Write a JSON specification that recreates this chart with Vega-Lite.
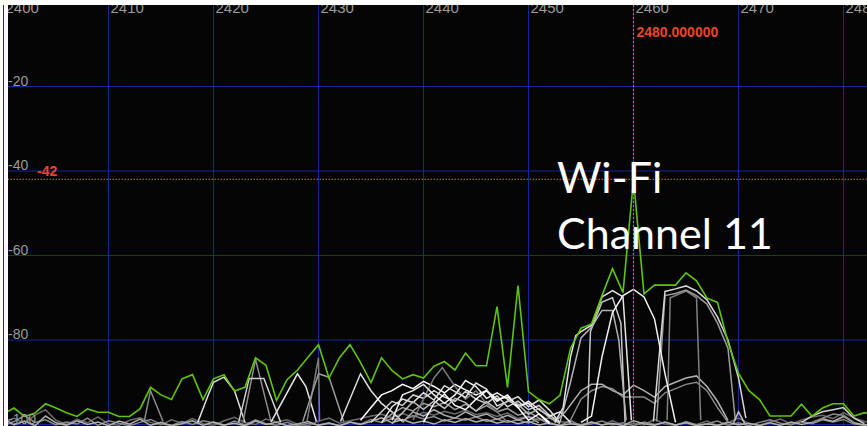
{
"$schema":"https://vega.github.io/schema/vega-lite/v6.json",
"width":859,"height":421,
"autosize":{"type":"none"},
"padding":{"left":8,"top":5,"right":0,"bottom":0},
"background":"#ffffff",
"config":{"view":{"fill":"#050505","stroke":null},"font":"Liberation Sans"},
"datasets":{
"green":[
{"f":2400,"v":-97.5},{"f":2401,"v":-96.1},{"f":2402,"v":-98.1},{"f":2403,"v":-97.3},{"f":2404,"v":-95.1},{"f":2405,"v":-96.1},{"f":2406,"v":-97.2},{"f":2407,"v":-98.1},{"f":2408,"v":-96.3},{"f":2409,"v":-97.1},
{"f":2410,"v":-97.1},{"f":2411,"v":-98.1},{"f":2412,"v":-98.1},{"f":2413,"v":-96.3},{"f":2414,"v":-91.2},{"f":2415,"v":-93.0},{"f":2416,"v":-94.1},{"f":2417,"v":-89.2},{"f":2418,"v":-88.2},{"f":2419,"v":-94.1},
{"f":2420,"v":-89.2},{"f":2421,"v":-88.2},{"f":2422,"v":-92.1},{"f":2423,"v":-91.2},{"f":2424,"v":-84.2},{"f":2425,"v":-86.0},{"f":2426,"v":-94.3},{"f":2427,"v":-89.4},{"f":2428,"v":-87.1},{"f":2429,"v":-84.1},
{"f":2430,"v":-81.1},{"f":2431,"v":-89.0},{"f":2432,"v":-84.2},{"f":2433,"v":-81.1},{"f":2434,"v":-85.3},{"f":2435,"v":-90.1},{"f":2436,"v":-84.2},{"f":2437,"v":-87.2},{"f":2438,"v":-89.2},{"f":2439,"v":-88.2},
{"f":2440,"v":-89.0},{"f":2441,"v":-86.2},{"f":2442,"v":-85.1},{"f":2443,"v":-87.1},{"f":2444,"v":-83.1},{"f":2445,"v":-86.1},{"f":2446,"v":-86.1},{"f":2447,"v":-72.1},{"f":2448,"v":-91.2},{"f":2449,"v":-67.1},
{"f":2450,"v":-92.2},{"f":2451,"v":-94.1},{"f":2452,"v":-95.1},{"f":2453,"v":-93.1},{"f":2454,"v":-82.0},{"f":2455,"v":-77.2},{"f":2456,"v":-76.2},{"f":2457,"v":-69.5},{"f":2458,"v":-63.1},{"f":2459,"v":-68.8},
{"f":2460,"v":-42},{"f":2461,"v":-69.1},{"f":2462,"v":-67.0},{"f":2463,"v":-67.0},{"f":2464,"v":-67.0},{"f":2465,"v":-64.1},{"f":2466,"v":-66.0},{"f":2467,"v":-70.1},{"f":2468,"v":-71.1},{"f":2469,"v":-80.6},
{"f":2470,"v":-87.9},{"f":2471,"v":-92.0},{"f":2472,"v":-94.1},{"f":2473,"v":-98.0},{"f":2474,"v":-98.0},{"f":2475,"v":-98.0},{"f":2476,"v":-95.2},{"f":2477,"v":-98.0},{"f":2478,"v":-96.1},{"f":2479,"v":-95.1},
{"f":2480,"v":-95.1},{"f":2481,"v":-98.0},{"f":2482,"v":-97.2},{"f":2483,"v":-97.8}
],
"traces":[
{"t":"n1","f":2400,"v":-99.5},{"t":"n1","f":2401,"v":-98.5},{"t":"n1","f":2402,"v":-99.8},{"t":"n1","f":2403,"v":-97.8},{"t":"n1","f":2404,"v":-96.5},{"t":"n1","f":2405,"v":-99},{"t":"n1","f":2406,"v":-100},{"t":"n1","f":2407,"v":-98.8},{"t":"n1","f":2408,"v":-99.6},{"t":"n1","f":2409,"v":-98.2},
{"t":"n1","f":2410,"v":-99.9},{"t":"n1","f":2411,"v":-100.2},{"t":"n1","f":2412,"v":-99},{"t":"n1","f":2413,"v":-98.4},{"t":"n1","f":2414,"v":-99.5},{"t":"n1","f":2415,"v":-100.1},{"t":"n1","f":2416,"v":-98.9},{"t":"n1","f":2417,"v":-99.7},{"t":"n1","f":2418,"v":-98.6},{"t":"n1","f":2419,"v":-99.8},
{"t":"n1","f":2420,"v":-100.2},{"t":"n1","f":2421,"v":-99.1},{"t":"n1","f":2422,"v":-98.3},{"t":"n1","f":2423,"v":-99.6},{"t":"n1","f":2424,"v":-100},{"t":"n1","f":2425,"v":-98.7},{"t":"n1","f":2426,"v":-99.4},{"t":"n1","f":2427,"v":-98.9},{"t":"n1","f":2428,"v":-99.9},{"t":"n1","f":2429,"v":-100.3},
{"t":"n1","f":2430,"v":-99.2},{"t":"n1","f":2431,"v":-98.5},{"t":"n1","f":2432,"v":-99.7},{"t":"n1","f":2433,"v":-99.1},{"t":"n1","f":2434,"v":-98.6},{"t":"n1","f":2435,"v":-98},{"t":"n1","f":2436,"v":-97.6},{"t":"n1","f":2437,"v":-98.4},{"t":"n1","f":2438,"v":-97.4},{"t":"n1","f":2439,"v":-98.2},
{"t":"n1","f":2440,"v":-97.1},{"t":"n1","f":2441,"v":-97.8},{"t":"n1","f":2442,"v":-96.9},{"t":"n1","f":2443,"v":-97.5},{"t":"n1","f":2444,"v":-96.6},{"t":"n1","f":2445,"v":-97.7},{"t":"n1","f":2446,"v":-97.2},{"t":"n1","f":2447,"v":-98.1},{"t":"n1","f":2448,"v":-97.3},{"t":"n1","f":2449,"v":-98.6},
{"t":"n1","f":2450,"v":-98},{"t":"n1","f":2451,"v":-99},{"t":"n1","f":2452,"v":-98.4},{"t":"n1","f":2453,"v":-99.3},{"t":"n1","f":2454,"v":-99.6},{"t":"n1","f":2455,"v":-100},{"t":"n1","f":2456,"v":-99.4},{"t":"n1","f":2457,"v":-100.2},{"t":"n1","f":2458,"v":-99.1},{"t":"n1","f":2459,"v":-100.3},
{"t":"n1","f":2460,"v":-99.7},{"t":"n1","f":2461,"v":-100.1},{"t":"n1","f":2462,"v":-98.8},{"t":"n1","f":2463,"v":-99.9},{"t":"n1","f":2464,"v":-100.2},{"t":"n1","f":2465,"v":-99.5},{"t":"n1","f":2466,"v":-100},{"t":"n1","f":2467,"v":-99.2},{"t":"n1","f":2468,"v":-100.3},{"t":"n1","f":2469,"v":-99.6},
{"t":"n1","f":2470,"v":-98.5},{"t":"n1","f":2471,"v":-99.8},{"t":"n1","f":2472,"v":-100.1},{"t":"n1","f":2473,"v":-99.4},{"t":"n1","f":2474,"v":-98.7},{"t":"n1","f":2475,"v":-99.9},{"t":"n1","f":2476,"v":-98.9},{"t":"n1","f":2477,"v":-98.2},{"t":"n1","f":2478,"v":-97.8},{"t":"n1","f":2479,"v":-98.6},
{"t":"n1","f":2480,"v":-97.2},{"t":"n1","f":2481,"v":-98.4},{"t":"n1","f":2482,"v":-99.3},{"t":"n1","f":2483,"v":-99.8},
{"t":"n2","f":2400,"v":-100.2},{"t":"n2","f":2401,"v":-99.3},{"t":"n2","f":2402,"v":-97.9},{"t":"n2","f":2403,"v":-99.5},{"t":"n2","f":2404,"v":-98.9},{"t":"n2","f":2405,"v":-100.1},{"t":"n2","f":2406,"v":-99.4},{"t":"n2","f":2407,"v":-99.9},{"t":"n2","f":2408,"v":-98.5},{"t":"n2","f":2409,"v":-100.2},
{"t":"n2","f":2410,"v":-99.1},{"t":"n2","f":2411,"v":-99.7},{"t":"n2","f":2412,"v":-100.3},{"t":"n2","f":2413,"v":-99.5},{"t":"n2","f":2414,"v":-98.8},{"t":"n2","f":2415,"v":-99.9},{"t":"n2","f":2416,"v":-100.2},{"t":"n2","f":2417,"v":-99.3},{"t":"n2","f":2418,"v":-100},{"t":"n2","f":2419,"v":-99.1},
{"t":"n2","f":2420,"v":-99.6},{"t":"n2","f":2421,"v":-100.3},{"t":"n2","f":2422,"v":-99.2},{"t":"n2","f":2423,"v":-100.1},{"t":"n2","f":2424,"v":-98.9},{"t":"n2","f":2425,"v":-99.8},{"t":"n2","f":2426,"v":-100.2},{"t":"n2","f":2427,"v":-99.5},{"t":"n2","f":2428,"v":-100.3},{"t":"n2","f":2429,"v":-99.7},
{"t":"n2","f":2430,"v":-100.1},{"t":"n2","f":2431,"v":-99.6},{"t":"n2","f":2432,"v":-100.3},{"t":"n2","f":2433,"v":-99.4},{"t":"n2","f":2434,"v":-99.9},{"t":"n2","f":2435,"v":-98.8},{"t":"n2","f":2436,"v":-99.5},{"t":"n2","f":2437,"v":-98.6},{"t":"n2","f":2438,"v":-99.1},{"t":"n2","f":2439,"v":-97.9},
{"t":"n2","f":2440,"v":-98.7},{"t":"n2","f":2441,"v":-98.1},{"t":"n2","f":2442,"v":-99.2},{"t":"n2","f":2443,"v":-98.4},{"t":"n2","f":2444,"v":-99},{"t":"n2","f":2445,"v":-98.2},{"t":"n2","f":2446,"v":-99.3},{"t":"n2","f":2447,"v":-98.7},{"t":"n2","f":2448,"v":-99.5},{"t":"n2","f":2449,"v":-98.9},
{"t":"n2","f":2450,"v":-99.7},{"t":"n2","f":2451,"v":-98.6},{"t":"n2","f":2452,"v":-99.9},{"t":"n2","f":2453,"v":-100.2},{"t":"n2","f":2454,"v":-99.1},{"t":"n2","f":2455,"v":-100.3},{"t":"n2","f":2456,"v":-99.8},{"t":"n2","f":2457,"v":-99.2},{"t":"n2","f":2458,"v":-100.1},{"t":"n2","f":2459,"v":-99.6},
{"t":"n2","f":2460,"v":-100.3},{"t":"n2","f":2461,"v":-99.4},{"t":"n2","f":2462,"v":-100},{"t":"n2","f":2463,"v":-99.5},{"t":"n2","f":2464,"v":-100.2},{"t":"n2","f":2465,"v":-99.3},{"t":"n2","f":2466,"v":-100.1},{"t":"n2","f":2467,"v":-99.8},{"t":"n2","f":2468,"v":-99.2},{"t":"n2","f":2469,"v":-100.2},
{"t":"n2","f":2470,"v":-99.6},{"t":"n2","f":2471,"v":-100.3},{"t":"n2","f":2472,"v":-99.5},{"t":"n2","f":2473,"v":-98.9},{"t":"n2","f":2474,"v":-99.7},{"t":"n2","f":2475,"v":-100.1},{"t":"n2","f":2476,"v":-99.3},{"t":"n2","f":2477,"v":-99.8},{"t":"n2","f":2478,"v":-98.9},{"t":"n2","f":2479,"v":-99.4},
{"t":"n2","f":2480,"v":-98.8},{"t":"n2","f":2481,"v":-99.9},{"t":"n2","f":2482,"v":-100.2},{"t":"n2","f":2483,"v":-99.5},
{"t":"n3","f":2400,"v":-98.6},{"t":"n3","f":2401,"v":-100.1},{"t":"n3","f":2402,"v":-99.2},{"t":"n3","f":2403,"v":-100.3},{"t":"n3","f":2404,"v":-98},{"t":"n3","f":2405,"v":-99.6},{"t":"n3","f":2406,"v":-100.2},{"t":"n3","f":2407,"v":-99.1},{"t":"n3","f":2408,"v":-100},{"t":"n3","f":2409,"v":-99.4},
{"t":"n3","f":2410,"v":-100.3},{"t":"n3","f":2411,"v":-99.2},{"t":"n3","f":2412,"v":-99.9},{"t":"n3","f":2413,"v":-98.7},{"t":"n3","f":2414,"v":-100.2},{"t":"n3","f":2415,"v":-99.5},{"t":"n3","f":2416,"v":-100.3},{"t":"n3","f":2417,"v":-99.8},{"t":"n3","f":2418,"v":-99.1},{"t":"n3","f":2419,"v":-100.2},
{"t":"n3","f":2420,"v":-99.4},{"t":"n3","f":2421,"v":-100.1},{"t":"n3","f":2422,"v":-99.7},{"t":"n3","f":2423,"v":-100.3},{"t":"n3","f":2424,"v":-99.2},{"t":"n3","f":2425,"v":-100},{"t":"n3","f":2426,"v":-99.5},{"t":"n3","f":2427,"v":-100.3},{"t":"n3","f":2428,"v":-99.9},{"t":"n3","f":2429,"v":-99.3},
{"t":"n3","f":2430,"v":-100.2},{"t":"n3","f":2431,"v":-99.7},{"t":"n3","f":2432,"v":-100.3},{"t":"n3","f":2433,"v":-99.5},{"t":"n3","f":2434,"v":-100},{"t":"n3","f":2435,"v":-99.3},{"t":"n3","f":2436,"v":-98.4},{"t":"n3","f":2437,"v":-99.6},{"t":"n3","f":2438,"v":-98.8},{"t":"n3","f":2439,"v":-99.7},
{"t":"n3","f":2440,"v":-99.2},{"t":"n3","f":2441,"v":-99.9},{"t":"n3","f":2442,"v":-98.9},{"t":"n3","f":2443,"v":-99.5},{"t":"n3","f":2444,"v":-98.6},{"t":"n3","f":2445,"v":-99.4},{"t":"n3","f":2446,"v":-98.8},{"t":"n3","f":2447,"v":-99.7},{"t":"n3","f":2448,"v":-99.1},{"t":"n3","f":2449,"v":-99.8},
{"t":"n3","f":2450,"v":-99.3},{"t":"n3","f":2451,"v":-100.1},{"t":"n3","f":2452,"v":-99.6},{"t":"n3","f":2453,"v":-100.3},{"t":"n3","f":2454,"v":-99.8},{"t":"n3","f":2455,"v":-100.2},{"t":"n3","f":2456,"v":-99.4},{"t":"n3","f":2457,"v":-100.1},{"t":"n3","f":2458,"v":-99.7},{"t":"n3","f":2459,"v":-100.3},
{"t":"n3","f":2460,"v":-99.1},{"t":"n3","f":2461,"v":-99.8},{"t":"n3","f":2462,"v":-100.2},{"t":"n3","f":2463,"v":-99.4},{"t":"n3","f":2464,"v":-100.1},{"t":"n3","f":2465,"v":-99.6},{"t":"n3","f":2466,"v":-100.3},{"t":"n3","f":2467,"v":-99.9},{"t":"n3","f":2468,"v":-100.2},{"t":"n3","f":2469,"v":-99.5},
{"t":"n3","f":2470,"v":-100.1},{"t":"n3","f":2471,"v":-99.7},{"t":"n3","f":2472,"v":-100.3},{"t":"n3","f":2473,"v":-99.6},{"t":"n3","f":2474,"v":-100.2},{"t":"n3","f":2475,"v":-99.4},{"t":"n3","f":2476,"v":-100},{"t":"n3","f":2477,"v":-99.5},{"t":"n3","f":2478,"v":-98.6},{"t":"n3","f":2479,"v":-99.3},
{"t":"n3","f":2480,"v":-98.1},{"t":"n3","f":2481,"v":-99.6},{"t":"n3","f":2482,"v":-100.1},{"t":"n3","f":2483,"v":-99.7},
{"t":"p1","f":2413.4,"v":-99.3},{"t":"p1","f":2414,"v":-92},{"t":"p1","f":2415.2,"v":-99.3},
{"t":"p3","f":2418.5,"v":-99.5},{"t":"p3","f":2419.5,"v":-93},{"t":"p3","f":2420,"v":-90},{"t":"p3","f":2421,"v":-88.8},{"t":"p3","f":2422,"v":-92},{"t":"p3","f":2423,"v":-99.5},
{"t":"p4","f":2422.8,"v":-99.5},{"t":"p4","f":2424,"v":-84.6},{"t":"p4","f":2425.5,"v":-99.5},
{"t":"p5","f":2422.4,"v":-99.5},{"t":"p5","f":2423.4,"v":-89.1},{"t":"p5","f":2424.8,"v":-89.1},{"t":"p5","f":2426.4,"v":-99.5},
{"t":"p6","f":2425.5,"v":-99.3},{"t":"p6","f":2428,"v":-88},{"t":"p6","f":2428.8,"v":-91},{"t":"p6","f":2429.8,"v":-99.3},
{"t":"p7","f":2428.9,"v":-99.3},{"t":"p7","f":2430,"v":-84.2},{"t":"p7","f":2430.1,"v":-99.3},
{"t":"p8","f":2428.5,"v":-99.3},{"t":"p8","f":2430,"v":-88},{"t":"p8","f":2431,"v":-88.8},{"t":"p8","f":2432.4,"v":-99.3},
{"t":"p9","f":2432.1,"v":-99.3},{"t":"p9","f":2434,"v":-88},{"t":"p9","f":2435,"v":-92},{"t":"p9","f":2436,"v":-95},{"t":"p9","f":2437,"v":-97},{"t":"p9","f":2438,"v":-99.3},
{"t":"c1","f":2434,"v":-99},{"t":"c1","f":2435,"v":-96},{"t":"c1","f":2436,"v":-93},{"t":"c1","f":2437,"v":-92},{"t":"c1","f":2438,"v":-90.5},{"t":"c1","f":2439,"v":-91.5},{"t":"c1","f":2440,"v":-89.8},{"t":"c1","f":2441,"v":-91},{"t":"c1","f":2442,"v":-92.5},{"t":"c1","f":2443,"v":-90.5},{"t":"c1","f":2444,"v":-91.8},{"t":"c1","f":2445,"v":-93},{"t":"c1","f":2446,"v":-92},{"t":"c1","f":2447,"v":-94},{"t":"c1","f":2448,"v":-93.5},{"t":"c1","f":2449,"v":-95.5},{"t":"c1","f":2450,"v":-95},{"t":"c1","f":2451,"v":-97.5},{"t":"c1","f":2452,"v":-99.5},
{"t":"c2","f":2435,"v":-99.5},{"t":"c2","f":2436,"v":-97},{"t":"c2","f":2437,"v":-94.5},{"t":"c2","f":2438,"v":-95.5},{"t":"c2","f":2439,"v":-93},{"t":"c2","f":2440,"v":-93.8},{"t":"c2","f":2441,"v":-92},{"t":"c2","f":2442,"v":-93.5},{"t":"c2","f":2443,"v":-94.5},{"t":"c2","f":2444,"v":-92.2},{"t":"c2","f":2445,"v":-94},{"t":"c2","f":2446,"v":-95},{"t":"c2","f":2447,"v":-93.2},{"t":"c2","f":2448,"v":-95.8},{"t":"c2","f":2449,"v":-94.5},{"t":"c2","f":2450,"v":-96.5},{"t":"c2","f":2451,"v":-95.5},{"t":"c2","f":2452,"v":-97.8},{"t":"c2","f":2453,"v":-99.5},
{"t":"c3","f":2436,"v":-99.5},{"t":"c3","f":2437,"v":-97.5},{"t":"c3","f":2438,"v":-96},{"t":"c3","f":2439,"v":-96.8},{"t":"c3","f":2440,"v":-95},{"t":"c3","f":2441,"v":-95.8},{"t":"c3","f":2442,"v":-94.8},{"t":"c3","f":2443,"v":-96.5},{"t":"c3","f":2444,"v":-95.2},{"t":"c3","f":2445,"v":-96.8},{"t":"c3","f":2446,"v":-95.5},{"t":"c3","f":2447,"v":-97},{"t":"c3","f":2448,"v":-96.2},{"t":"c3","f":2449,"v":-97.8},{"t":"c3","f":2450,"v":-97},{"t":"c3","f":2451,"v":-98.5},{"t":"c3","f":2452,"v":-99.8},
{"t":"c4","f":2439,"v":-99},{"t":"c4","f":2440,"v":-94},{"t":"c4","f":2441,"v":-89},{"t":"c4","f":2441.8,"v":-86.5},{"t":"c4","f":2443,"v":-91},{"t":"c4","f":2444,"v":-94},{"t":"c4","f":2445,"v":-92},{"t":"c4","f":2446,"v":-95},{"t":"c4","f":2447,"v":-97},{"t":"c4","f":2448,"v":-99.5},
{"t":"c5","f":2437,"v":-99},{"t":"c5","f":2438,"v":-93},{"t":"c5","f":2439,"v":-92},{"t":"c5","f":2440,"v":-90.5},{"t":"c5","f":2441,"v":-93},{"t":"c5","f":2442,"v":-95},{"t":"c5","f":2443,"v":-93},{"t":"c5","f":2444,"v":-89.6},{"t":"c5","f":2445,"v":-91},{"t":"c5","f":2446,"v":-93.8},{"t":"c5","f":2447,"v":-92.5},{"t":"c5","f":2448,"v":-94},{"t":"c5","f":2449,"v":-96},{"t":"c5","f":2450,"v":-94.5},{"t":"c5","f":2451,"v":-96.5},{"t":"c5","f":2452,"v":-98},{"t":"c5","f":2453,"v":-97},{"t":"c5","f":2454,"v":-99.5},
{"t":"c6","f":2438,"v":-99.5},{"t":"c6","f":2439,"v":-97},{"t":"c6","f":2440,"v":-98},{"t":"c6","f":2441,"v":-96.5},{"t":"c6","f":2442,"v":-97.8},{"t":"c6","f":2443,"v":-98.5},{"t":"c6","f":2444,"v":-97},{"t":"c6","f":2445,"v":-98.2},{"t":"c6","f":2446,"v":-97.5},{"t":"c6","f":2447,"v":-98.8},{"t":"c6","f":2448,"v":-97.8},{"t":"c6","f":2449,"v":-99},{"t":"c6","f":2450,"v":-98.2},{"t":"c6","f":2451,"v":-99.6},
{"t":"c7","f":2440,"v":-99.5},{"t":"c7","f":2441,"v":-95},{"t":"c7","f":2442,"v":-92.8},{"t":"c7","f":2443,"v":-95.5},{"t":"c7","f":2444,"v":-96.5},{"t":"c7","f":2445,"v":-94},{"t":"c7","f":2446,"v":-92},{"t":"c7","f":2447,"v":-94.5},{"t":"c7","f":2448,"v":-93},{"t":"c7","f":2449,"v":-96},{"t":"c7","f":2450,"v":-99},{"t":"c7","f":2451,"v":-97.5},{"t":"c7","f":2452,"v":-99.8},
{"t":"c8","f":2436,"v":-99.6},{"t":"c8","f":2437,"v":-95.8},{"t":"c8","f":2438,"v":-94},{"t":"c8","f":2439,"v":-94.8},{"t":"c8","f":2440,"v":-92.5},{"t":"c8","f":2441,"v":-94.2},{"t":"c8","f":2442,"v":-90.8},{"t":"c8","f":2443,"v":-92.2},{"t":"c8","f":2444,"v":-93.6},{"t":"c8","f":2445,"v":-90.2},{"t":"c8","f":2446,"v":-91.6},{"t":"c8","f":2447,"v":-95.6},{"t":"c8","f":2448,"v":-94.6},{"t":"c8","f":2449,"v":-93.4},{"t":"c8","f":2450,"v":-95.8},{"t":"c8","f":2451,"v":-94.2},{"t":"c8","f":2452,"v":-96.6},{"t":"c8","f":2453,"v":-99.6},
{"t":"c9","f":2437,"v":-99.8},{"t":"c9","f":2438,"v":-97.2},{"t":"c9","f":2439,"v":-94.6},{"t":"c9","f":2440,"v":-96.4},{"t":"c9","f":2441,"v":-94.4},{"t":"c9","f":2442,"v":-96.2},{"t":"c9","f":2443,"v":-93.8},{"t":"c9","f":2444,"v":-94.8},{"t":"c9","f":2445,"v":-96.8},{"t":"c9","f":2446,"v":-94.6},{"t":"c9","f":2447,"v":-96.4},{"t":"c9","f":2448,"v":-94.4},{"t":"c9","f":2449,"v":-95.2},{"t":"c9","f":2450,"v":-97.6},{"t":"c9","f":2451,"v":-96.2},{"t":"c9","f":2452,"v":-98.4},{"t":"c9","f":2453,"v":-99.8},
{"t":"t7","f":2454,"v":-99},{"t":"t7","f":2455,"v":-94},{"t":"t7","f":2456,"v":-92},{"t":"t7","f":2457,"v":-91},{"t":"t7","f":2458,"v":-91.5},{"t":"t7","f":2459,"v":-93.5},{"t":"t7","f":2460,"v":-93.5},{"t":"t7","f":2461,"v":-93.5},{"t":"t7","f":2462,"v":-95},{"t":"t7","f":2463,"v":-92.5},{"t":"t7","f":2464,"v":-91.5},{"t":"t7","f":2465,"v":-90.5},{"t":"t7","f":2466,"v":-90},{"t":"t7","f":2467,"v":-92},{"t":"t7","f":2468,"v":-96},{"t":"t7","f":2469,"v":-99.5},
{"t":"t6","f":2452.5,"v":-99.5},{"t":"t6","f":2453.5,"v":-97},{"t":"t6","f":2455,"v":-92},{"t":"t6","f":2456,"v":-90.5},{"t":"t6","f":2457,"v":-90.5},{"t":"t6","f":2458,"v":-92},{"t":"t6","f":2459,"v":-93},{"t":"t6","f":2460,"v":-90.7},{"t":"t6","f":2461,"v":-92},{"t":"t6","f":2462,"v":-93.5},{"t":"t6","f":2463,"v":-91},{"t":"t6","f":2464,"v":-90},{"t":"t6","f":2465,"v":-89},{"t":"t6","f":2466,"v":-88.5},{"t":"t6","f":2467,"v":-91},{"t":"t6","f":2468,"v":-94.5},{"t":"t6","f":2469,"v":-99},
{"t":"t5b","f":2463.2,"v":-99},{"t":"t5b","f":2463.5,"v":-70},{"t":"t5b","f":2465,"v":-68.4},{"t":"t5b","f":2466,"v":-70},{"t":"t5b","f":2466.4,"v":-99},
{"t":"t5","f":2462.2,"v":-99.3},{"t":"t5","f":2463,"v":-69.5},{"t":"t5","f":2464,"v":-69},{"t":"t5","f":2465,"v":-68.2},{"t":"t5","f":2466,"v":-69.5},{"t":"t5","f":2467,"v":-71.5},{"t":"t5","f":2468,"v":-76},{"t":"t5","f":2469,"v":-82},{"t":"t5","f":2469.7,"v":-99},
{"t":"t4","f":2461.9,"v":-99.3},{"t":"t4","f":2462.4,"v":-85},{"t":"t4","f":2463,"v":-68.5},{"t":"t4","f":2464,"v":-67.9},{"t":"t4","f":2465,"v":-67.2},{"t":"t4","f":2466,"v":-68.4},{"t":"t4","f":2467,"v":-70.5},{"t":"t4","f":2468,"v":-74.6},{"t":"t4","f":2469,"v":-80},{"t":"t4","f":2470,"v":-89},{"t":"t4","f":2470.7,"v":-98.5},
{"t":"t3","f":2455.6,"v":-99.5},{"t":"t3","f":2455.9,"v":-78},{"t":"t3","f":2457,"v":-71},{"t":"t3","f":2458,"v":-70},{"t":"t3","f":2458.8,"v":-76},{"t":"t3","f":2459.2,"v":-99.5},
{"t":"t2b","f":2453,"v":-99.5},{"t":"t2b","f":2454,"v":-90},{"t":"t2b","f":2455,"v":-79.5},{"t":"t2b","f":2456,"v":-77},{"t":"t2b","f":2457,"v":-73},{"t":"t2b","f":2458,"v":-73},{"t":"t2b","f":2458.6,"v":-80},{"t":"t2b","f":2459.3,"v":-99},
{"t":"t2","f":2452.5,"v":-99.5},{"t":"t2","f":2453.3,"v":-96},{"t":"t2","f":2454,"v":-84},{"t":"t2","f":2454.5,"v":-79},{"t":"t2","f":2455,"v":-78},{"t":"t2","f":2456,"v":-76.5},{"t":"t2","f":2457,"v":-69.8},{"t":"t2","f":2458,"v":-68.3},{"t":"t2","f":2459,"v":-69.8},{"t":"t2","f":2459.8,"v":-99},
{"t":"t1","f":2455,"v":-99.5},{"t":"t1","f":2456,"v":-98},{"t":"t1","f":2457,"v":-84},{"t":"t1","f":2458,"v":-73.5},{"t":"t1","f":2459,"v":-69.5},{"t":"t1","f":2460,"v":-68},{"t":"t1","f":2461,"v":-69.8},{"t":"t1","f":2462,"v":-75},{"t":"t1","f":2463,"v":-88},{"t":"t1","f":2464,"v":-99.5},
{"t":"r1","f":2476,"v":-99.5},{"t":"r1","f":2477,"v":-98},{"t":"r1","f":2478,"v":-97},{"t":"r1","f":2479,"v":-96.5},{"t":"r1","f":2480,"v":-96},{"t":"r1","f":2481,"v":-98.5},{"t":"r1","f":2482,"v":-99.8},
{"t":"r2","f":2477,"v":-99.5},{"t":"r2","f":2478,"v":-98.5},{"t":"r2","f":2479,"v":-97.5},{"t":"r2","f":2480,"v":-97.8},{"t":"r2","f":2481,"v":-99.5},
{"t":"r3","f":2469.5,"v":-99.8},{"t":"r3","f":2470,"v":-97},{"t":"r3","f":2470.6,"v":-99.8}
],
"xticks":[{"f":2400,"label":"2400"},{"f":2410,"label":"2410"},{"f":2420,"label":"2420"},{"f":2430,"label":"2430"},{"f":2440,"label":"2440"},{"f":2450,"label":"2450"},{"f":2460,"label":"2460"},{"f":2470,"label":"2470"},{"f":2480,"label":"2480"}],
"yticks":[{"v":-100,"label":"-100"},{"v":-80,"label":"-80"},{"v":-60,"label":"-60"},{"v":-40,"label":"-40"},{"v":-20,"label":"-20"}],
"wifi":[{"f":2452.714,"v":-45.21,"label":"Wi-Fi"},{"f":2452.714,"v":-58.46,"label":"Channel 11"}]
},
"layer":[
{
"data":{"name":"xticks"},
"mark":{"type":"rule","color":"#11299a","strokeWidth":1},
"encoding":{"x":{"field":"f","type":"quantitative","scale":{"domain":[2400.4286,2482.2381],"nice":false,"zero":false},"axis":null}}
},
{
"data":{"name":"yticks"},
"mark":{"type":"rule","color":"#11299a","strokeWidth":1},
"encoding":{"y":{"field":"v","type":"quantitative","scale":{"domain":[-100.355,-0.71],"nice":false,"zero":false},"axis":null}}
},
{
"data":{"name":"traces"},
"mark":{"type":"line","strokeWidth":1.5,"clip":true},
"encoding":{
"x":{"field":"f","type":"quantitative","scale":{"domain":[2400.4286,2482.2381],"nice":false,"zero":false},"axis":null},
"y":{"field":"v","type":"quantitative","scale":{"domain":[-100.355,-0.71],"nice":false,"zero":false},"axis":null},
"detail":{"field":"t"},
"color":{"field":"t","type":"nominal","legend":null,"scale":{
"domain":["n1","n2","n3","p1","p3","p4","p5","p6","p7","p8","p9","c1","c2","c3","c4","c5","c6","c7","c8","c9","t7","t6","t5b","t5","t4","t3","t2b","t2","t1","r1","r2","r3"],
"range":["#6a6a6a","#8a8a8a","#b0b0b0","#8a8a8a","#dcdcdc","#8c8c8c","#cfcfcf","#e4e4e4","#7a7a7a","#9a9a9a","#dcdcdc","#ffffff","#cfcfcf","#9a9a9a","#7a7a7a","#eeeeee","#aaaaaa","#ffffff","#e0e0e0","#bdbdbd","#8a8a8a","#b0b0b0","#808080","#9c9c9c","#d6d6d6","#c8c8c8","#b4b4b4","#e6e6e6","#f2f2f2","#cfcfcf","#8a8a8a","#bbbbbb"]}}
}
},
{
"data":{"name":"green"},
"mark":{"type":"line","color":"#5ec40c","strokeWidth":1.6,"clip":true},
"encoding":{"x":{"field":"f","type":"quantitative","axis":null},"y":{"field":"v","type":"quantitative","axis":null}}
},
{
"data":{"values":[{"v":-42}]},
"mark":{"type":"rule","color":"#e0432c","strokeWidth":1.2,"strokeDash":[1.5,1.5]},
"encoding":{"y":{"field":"v","type":"quantitative","axis":null}}
},
{
"data":{"values":[{"f":2460}]},
"mark":{"type":"rule","color":"#c24ce6","strokeWidth":1.2,"strokeDash":[2,2]},
"encoding":{"x":{"field":"f","type":"quantitative","axis":null}}
},
{
"data":{"name":"xticks"},
"mark":{"type":"text","align":"left","baseline":"alphabetic","dx":2,"fontSize":15,"color":"#9a9a9a","font":"Liberation Sans","clip":true},
"encoding":{"x":{"field":"f","type":"quantitative","axis":null},"y":{"datum":-2.6,"axis":null},"text":{"field":"label"}}
},
{
"data":{"name":"yticks"},
"mark":{"type":"text","align":"left","baseline":"alphabetic","dy":-1,"fontSize":14,"color":"#9a9a9a","font":"Liberation Sans"},
"encoding":{"x":{"datum":2400.4286,"axis":null},"y":{"field":"v","type":"quantitative","axis":null},"text":{"field":"label"}}
},
{
"data":{"values":[{"f":2460,"v":-8.28,"label":"2480.000000"}]},
"mark":{"type":"text","align":"left","baseline":"alphabetic","dx":3,"fontSize":14,"fontWeight":"bold","color":"#e8452c","font":"Liberation Sans"},
"encoding":{"x":{"field":"f","type":"quantitative","axis":null},"y":{"field":"v","type":"quantitative","axis":null},"text":{"field":"label"}}
},
{
"data":{"values":[{"f":2403.19,"v":-41.18,"label":"-42"}]},
"mark":{"type":"text","align":"left","baseline":"alphabetic","fontSize":14,"fontWeight":"bold","color":"#e8452c","font":"Liberation Sans"},
"encoding":{"x":{"field":"f","type":"quantitative","axis":null},"y":{"field":"v","type":"quantitative","axis":null},"text":{"field":"label"}}
},
{
"data":{"name":"wifi"},
"mark":{"type":"text","align":"left","baseline":"alphabetic","fontSize":43,"color":"#ffffff","font":"Lato"},
"encoding":{"x":{"field":"f","type":"quantitative","axis":null},"y":{"field":"v","type":"quantitative","axis":null},"text":{"field":"label"}}
}
]
}
